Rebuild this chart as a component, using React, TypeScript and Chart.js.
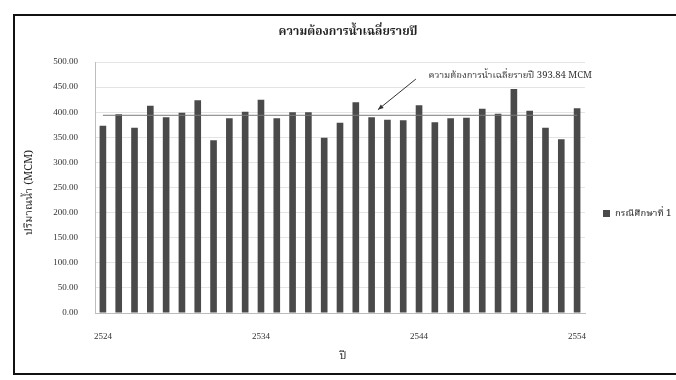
import React, { useEffect, useRef } from 'react';
import { Chart, registerables } from 'chart.js';

Chart.register(...registerables);

const years = [
  '2524', '2525', '2526', '2527', '2528', '2529', '2530', '2531', '2532', '2533',
  '2534', '2535', '2536', '2537', '2538', '2539', '2540', '2541', '2542', '2543',
  '2544', '2545', '2546', '2547', '2548', '2549', '2550', '2551', '2552', '2553',
  '2554',
];
const demand = [
  373, 396, 369, 413, 390, 399, 424, 344, 388, 401,
  425, 388, 400, 400, 349, 379, 420, 390, 385, 384,
  414, 380, 388, 389, 407, 397, 446, 403, 369, 346,
  408,
];
const avgValue = 393.84;
const avgLine = [
  { x: '2524', y: avgValue },
  { x: '2554', y: avgValue },
];
const shownYears = ['2524', '2534', '2544', '2554'];

const chartTitle = 'ความต้องการน้ำเฉลี่ยรายปี';
const seriesLabel = 'กรณีศึกษาที่ 1';
const avgLabel = 'ความต้องการน้ำเฉลี่ยรายปี';
const noteText = 'ความต้องการน้ำเฉลี่ยรายปี 393.84 MCM';
const yTitle = 'ปริมาณน้ำ (MCM)';
const xTitle = 'ปี';

// annotation anchors in data space (category index, value)
const noteAt = { cat: 20.6, val: 471 };
const arrowFrom = { cat: 19.8, val: 466 };
const arrowTo = { cat: 17.4, val: 405 };

const THAI = "'Noto Serif Thai', 'Noto Sans Thai', Tahoma, 'Liberation Serif', serif";
const SERIF = "'Liberation Serif', 'DejaVu Serif', serif";
const BAR = '#4a4a4a';

const decor = {
  id: 'decor',
  beforeDraw(chart: any) {
    const { ctx, width, height } = chart;
    ctx.save();
    ctx.fillStyle = '#ffffff';
    ctx.fillRect(0, 0, width, height);
    ctx.strokeStyle = '#111';
    ctx.lineWidth = 2;
    ctx.strokeRect(14, 15, width + 20, height - 21);
    ctx.restore();
  },
  afterDraw(chart: any) {
    const { ctx, chartArea, scales } = chart;
    const xs = scales.x;
    const ys = scales.y;
    ctx.save();
    // title
    ctx.fillStyle = '#222';
    ctx.textAlign = 'center';
    ctx.textBaseline = 'middle';
    ctx.font = `bold 12px ${THAI}`;
    ctx.fillText(chartTitle, (chartArea.left + chartArea.right) / 2 + 8, 33);
    // x title
    ctx.font = `11px ${THAI}`;
    ctx.fillText(xTitle, (chartArea.left + chartArea.right) / 2 + 3, 357);
    // y title
    ctx.save();
    ctx.translate(30, (chartArea.top + chartArea.bottom) / 2 + 5);
    ctx.rotate(-Math.PI / 2);
    ctx.font = `11px ${THAI}`;
    ctx.fillText(yTitle, 0, 0);
    ctx.restore();
    // annotation
    ctx.textAlign = 'left';
    ctx.font = `9.5px ${THAI}`;
    ctx.fillStyle = '#333';
    ctx.fillText(noteText, xs.getPixelForValue(noteAt.cat), ys.getPixelForValue(noteAt.val));
    const x1 = xs.getPixelForValue(arrowFrom.cat);
    const y1 = ys.getPixelForValue(arrowFrom.val);
    const x2 = xs.getPixelForValue(arrowTo.cat);
    const y2 = ys.getPixelForValue(arrowTo.val);
    ctx.strokeStyle = '#333';
    ctx.lineWidth = 1;
    ctx.beginPath();
    ctx.moveTo(x1, y1);
    ctx.lineTo(x2, y2);
    ctx.stroke();
    const ang = Math.atan2(y2 - y1, x2 - x1);
    ctx.beginPath();
    ctx.moveTo(x2, y2);
    ctx.lineTo(x2 - 6 * Math.cos(ang - 0.4), y2 - 6 * Math.sin(ang - 0.4));
    ctx.lineTo(x2 - 6 * Math.cos(ang + 0.4), y2 - 6 * Math.sin(ang + 0.4));
    ctx.closePath();
    ctx.fillStyle = '#333';
    ctx.fill();
    // legend
    ctx.fillStyle = BAR;
    ctx.fillRect(chartArea.right + 18, 210, 7, 7);
    ctx.fillStyle = '#222';
    ctx.font = `9.5px ${THAI}`;
    ctx.textBaseline = 'middle';
    ctx.fillText(seriesLabel, chartArea.right + 30, 214);
    ctx.restore();
  },
};

export default function App() {
  const ref = useRef<HTMLCanvasElement | null>(null);
  useEffect(() => {
    if (!ref.current) return;
    const chart = new Chart(ref.current, {
      type: 'bar',
      data: {
        labels: years,
        datasets: [
          {
            type: 'line',
            label: avgLabel,
            data: avgLine as any,
            borderColor: '#7a7a7a',
            borderWidth: 1,
            pointRadius: 0,
            fill: false,
            order: 0,
          } as any,
          {
            type: 'bar',
            label: seriesLabel,
            data: demand,
            backgroundColor: BAR,
            borderColor: '#333',
            borderWidth: 0,
            categoryPercentage: 1,
            barPercentage: 0.42,
            order: 1,
          },
        ],
      },
      options: {
        responsive: false,
        animation: false,
        layout: { padding: { left: 35, right: 91, top: 62, bottom: 27 } },
        plugins: {
          legend: { display: false },
          title: { display: false },
          tooltip: { enabled: false },
        },
        scales: {
          x: {
            grid: { display: false, drawTicks: false },
            border: { display: true, color: '#bdbdbd' },
            ticks: {
              autoSkip: false,
              maxRotation: 0,
              padding: 18,
              color: '#333',
              font: { family: SERIF, size: 9 },
              callback: function (this: any, v: any) {
                const l = this.getLabelForValue(v);
                return shownYears.includes(l) ? l : '';
              },
            },
            afterFit: (s: any) => {
              s.height = 40;
            },
          },
          y: {
            min: 0,
            max: 500,
            grid: { color: '#e4e4e4', drawTicks: false },
            border: { display: true, color: '#bdbdbd' },
            ticks: {
              stepSize: 50,
              padding: 17,
              color: '#333',
              font: { family: SERIF, size: 9 },
              callback: (v: any) => Number(v).toFixed(2),
            },
            afterFit: (s: any) => {
              s.width = 60;
            },
          },
        },
      },
      plugins: [decor],
    });
    return () => chart.destroy();
  }, []);
  return (
    <div style={{ position: 'absolute', left: 0, top: 0, width: 676, height: 380 }}>
      <canvas ref={ref} width={676} height={380} style={{ display: 'block' }} />
    </div>
  );
}
